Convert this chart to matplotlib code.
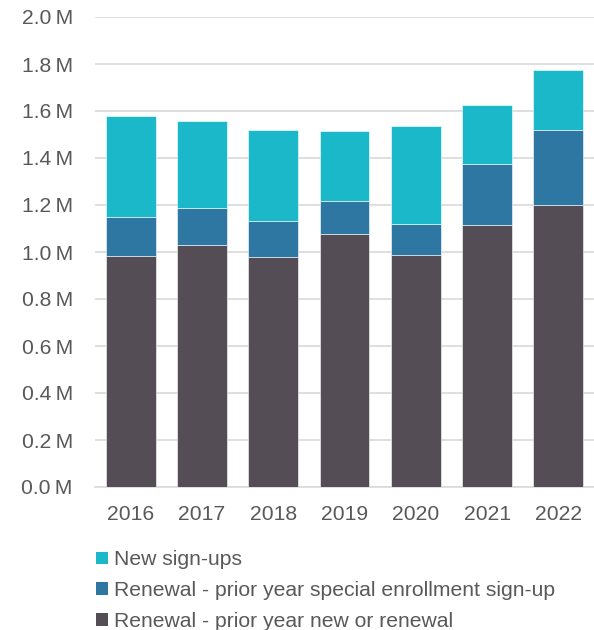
import matplotlib.pyplot as plt
from matplotlib.patches import Patch
from matplotlib.ticker import FuncFormatter

years = ["2016", "2017", "2018", "2019", "2020", "2021", "2022"]
# values in millions
renewal_prior = [0.984, 1.028, 0.980, 1.077, 0.986, 1.115, 1.198]
renewal_special = [0.165, 0.159, 0.153, 0.138, 0.134, 0.259, 0.322]
new_signups = [0.428, 0.372, 0.386, 0.300, 0.417, 0.252, 0.254]

labels = ["New sign-ups",
          "Renewal - prior year special enrollment sign-up",
          "Renewal - prior year new or renewal"]
colors = ["#1bb8c9", "#2e77a3", "#544d55"]

plt.rcParams["font.family"] = ["Liberation Sans", "DejaVu Sans"]
text_col = "#595959"
fs = 15.2

fig = plt.figure(figsize=(5.94, 6.3), dpi=100)
ax = fig.add_axes([95 / 594, 143 / 630, 499 / 594, 470 / 630])

x = range(len(years))
w = 0.7
mid_base = renewal_prior
top_base = [a + b for a, b in zip(renewal_prior, renewal_special)]
ax.bar(x, renewal_prior, w, color=colors[2], edgecolor="white", linewidth=0.4, zorder=3)
ax.bar(x, renewal_special, w, bottom=mid_base, color=colors[1], edgecolor="white", linewidth=0.4, zorder=3)
ax.bar(x, new_signups, w, bottom=top_base, color=colors[0], edgecolor="white", linewidth=0.4, zorder=3)

ax.set_xlim(-0.5, len(years) - 0.5)
ax.set_ylim(0, 2.0)
ax.set_yticks([i * 0.2 for i in range(11)])
ax.yaxis.set_major_formatter(FuncFormatter(lambda v, p: f"{v:.1f}\u2009M"))
ax.set_xticks(list(x))
ax.set_xticklabels(years)
ax.grid(axis="y", color="#d9d9d9", linewidth=1.2, zorder=0)
for s in ["top", "right", "left"]:
    ax.spines[s].set_visible(False)
ax.spines["bottom"].set_color("#d9d9d9")
ax.spines["bottom"].set_linewidth(1.2)
ax.tick_params(axis="both", length=0, labelsize=fs, colors=text_col)
ax.tick_params(axis="y", pad=16)
ax.tick_params(axis="x", pad=13)

handles = [Patch(facecolor=c, edgecolor="none") for c in colors]
fig.legend(handles, labels, loc="upper left", bbox_to_anchor=(88 / 594, 1 - 542 / 630),
           frameon=False, fontsize=fs, handlelength=0.55, handleheight=0.55,
           handletextpad=0.3, labelspacing=0.55, borderaxespad=0, labelcolor=text_col)

fig.savefig("out.png", dpi=100)
